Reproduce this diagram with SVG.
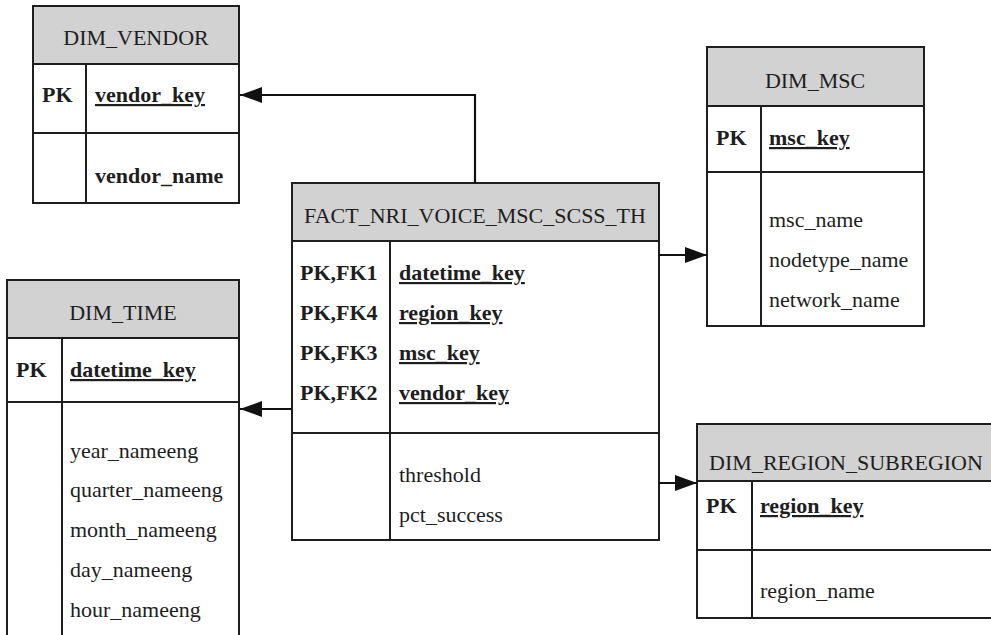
<svg xmlns="http://www.w3.org/2000/svg" width="991" height="635" viewBox="0 0 991 635">
<style>
.box{fill:#fff;stroke:#1e1e1e;stroke-width:2}
.hdr{fill:#d2d2d2;stroke:#1e1e1e;stroke-width:2}
.ln{stroke:#1e1e1e;stroke-width:2;fill:none}
.t{font-family:"Liberation Serif","Times New Roman",serif;font-size:22px;fill:#1e1e1e}
.title{text-anchor:middle}
.b{font-weight:bold}
.u{text-decoration:underline}
.conn{stroke:#111;stroke-width:2.2;fill:none;marker-end:url(#arr)}
</style>
<defs>
<marker id="arr" markerUnits="userSpaceOnUse" markerWidth="24" markerHeight="18" refX="22" refY="8" orient="auto">
<path d="M0,0 L22,8 L0,16 Z" fill="#111"/>
</marker>
</defs>
<rect width="991" height="635" fill="#fff"/>

<g id="dim_vendor">
<rect class="box" x="33" y="6" width="206" height="197"/>
<rect class="hdr" x="33" y="6" width="206" height="58"/>
<line class="ln" x1="86" y1="64" x2="86" y2="203"/>
<line class="ln" x1="33" y1="133" x2="239" y2="133"/>
<text class="t title" x="136" y="45">DIM_VENDOR</text>
<text class="t b" x="42" y="102">PK</text>
<text class="t b u" x="95" y="102">vendor_key</text>
<text class="t b" x="95" y="183">vendor_name</text>
</g>

<g id="fact">
<rect class="box" x="292" y="183" width="367" height="357"/>
<rect class="hdr" x="292" y="183" width="367" height="58"/>
<line class="ln" x1="390" y1="241" x2="390" y2="540"/>
<line class="ln" x1="292" y1="433" x2="659" y2="433"/>
<text class="t title" x="475" y="223">FACT_NRI_VOICE_MSC_SCSS_TH</text>
<text class="t b" x="300" y="280">PK,FK1</text>
<text class="t b" x="300" y="320">PK,FK4</text>
<text class="t b" x="300" y="360">PK,FK3</text>
<text class="t b" x="300" y="400">PK,FK2</text>
<text class="t b u" x="399" y="280">datetime_key</text>
<text class="t b u" x="399" y="320">region_key</text>
<text class="t b u" x="399" y="360">msc_key</text>
<text class="t b u" x="399" y="400">vendor_key</text>
<text class="t" x="399" y="482">threshold</text>
<text class="t" x="399" y="522">pct_success</text>
</g>

<g id="dim_msc">
<rect class="box" x="707" y="47" width="217" height="279"/>
<rect class="hdr" x="707" y="47" width="217" height="59"/>
<line class="ln" x1="761" y1="106" x2="761" y2="326"/>
<line class="ln" x1="707" y1="172" x2="924" y2="172"/>
<text class="t title" x="815" y="88">DIM_MSC</text>
<text class="t b" x="716" y="145">PK</text>
<text class="t b u" x="769" y="145">msc_key</text>
<text class="t" x="769" y="227">msc_name</text>
<text class="t" x="769" y="267">nodetype_name</text>
<text class="t" x="769" y="307">network_name</text>
</g>

<g id="dim_time">
<rect class="box" x="7" y="280" width="232" height="370"/>
<rect class="hdr" x="7" y="280" width="232" height="58"/>
<line class="ln" x1="62" y1="338" x2="62" y2="650"/>
<line class="ln" x1="7" y1="402" x2="239" y2="402"/>
<text class="t title" x="123" y="320">DIM_TIME</text>
<text class="t b" x="16" y="377">PK</text>
<text class="t b u" x="70" y="377">datetime_key</text>
<text class="t" x="70" y="458">year_nameeng</text>
<text class="t" x="70" y="497">quarter_nameeng</text>
<text class="t" x="70" y="537">month_nameeng</text>
<text class="t" x="70" y="577">day_nameeng</text>
<text class="t" x="70" y="617">hour_nameeng</text>
</g>

<g id="dim_region_subregion">
<rect class="box" x="697" y="424" width="300" height="194"/>
<rect class="hdr" x="697" y="424" width="300" height="57"/>
<line class="ln" x1="752" y1="481" x2="752" y2="618"/>
<line class="ln" x1="697" y1="550" x2="997" y2="550"/>
<text class="t title" x="846" y="470">DIM_REGION_SUBREGION</text>
<text class="t b" x="706" y="513">PK</text>
<text class="t b u" x="760" y="513">region_key</text>
<text class="t" x="760" y="598">region_name</text>
</g>

<g id="connectors">
<path class="conn" d="M475,183 L475,95 L240,95"/>
<path class="conn" d="M659,255 L707,255"/>
<path class="conn" d="M292,409 L240,409"/>
<path class="conn" d="M659,483 L697,483"/>
</g>
</svg>
